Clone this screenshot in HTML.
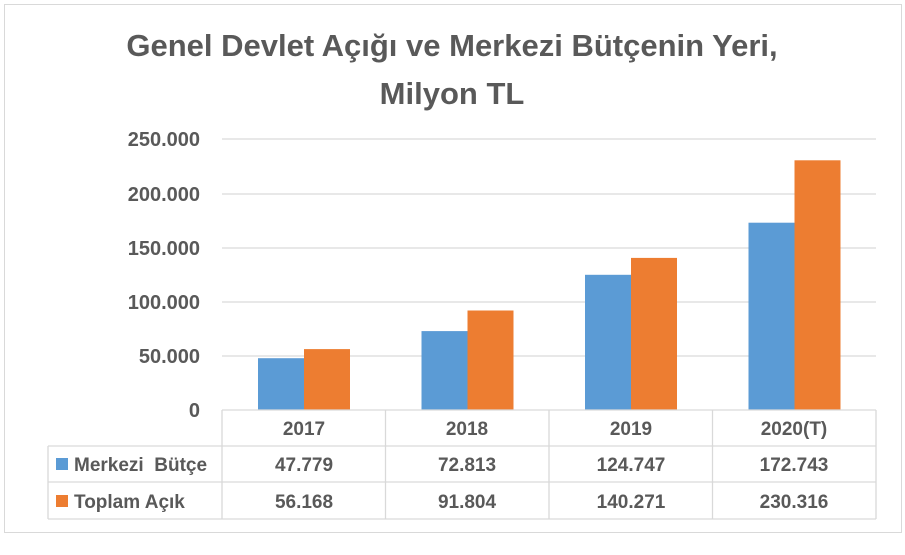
<!DOCTYPE html>
<html><head><meta charset="utf-8"><style>body{margin:0;background:#fff}</style></head><body>
<svg width="905" height="550" xmlns="http://www.w3.org/2000/svg" font-family="Liberation Sans, sans-serif" font-weight="bold" fill="#595959">
<rect x="4.5" y="4.5" width="897" height="528" fill="#fff" stroke="#d9d9d9"/>
<text x="452" y="56" font-size="31" text-anchor="middle">Genel Devlet Açığı ve Merkezi Bütçenin Yeri,</text>
<text x="452" y="104" font-size="31" text-anchor="middle">Milyon TL</text>
<g stroke="#d9d9d9" stroke-width="1.3">
<line x1="222" y1="139" x2="876" y2="139"/><line x1="222" y1="194" x2="876" y2="194"/><line x1="222" y1="248" x2="876" y2="248"/><line x1="222" y1="302" x2="876" y2="302"/><line x1="222" y1="356" x2="876" y2="356"/>
</g>
<g font-size="20" text-anchor="end">
<text x="200" y="146">250.000</text><text x="200" y="201">200.000</text><text x="200" y="255">150.000</text><text x="200" y="309">100.000</text><text x="200" y="363">50.000</text><text x="200" y="417">0</text>
</g>
<g fill="#5b9bd5">
<rect x="258" y="358.2" width="46" height="51.8"/><rect x="421.5" y="331.1" width="46" height="78.9"/><rect x="585" y="274.8" width="46" height="135.2"/><rect x="748.5" y="222.7" width="46" height="187.3"/>
</g>
<g fill="#ed7d31">
<rect x="304" y="349.1" width="46" height="60.9"/><rect x="467.5" y="310.5" width="46" height="99.5"/><rect x="631" y="257.9" width="46" height="152.1"/><rect x="794.5" y="160.3" width="46" height="249.7"/>
</g>
<g stroke="#d9d9d9" stroke-width="1.3" fill="none">
<line x1="222" y1="410" x2="876" y2="410"/>
<line x1="48" y1="446" x2="876" y2="446"/><line x1="48" y1="482" x2="876" y2="482"/><line x1="48" y1="519" x2="876" y2="519"/>
<line x1="48" y1="446" x2="48" y2="519"/><line x1="222" y1="410" x2="222" y2="519"/><line x1="385.5" y1="410" x2="385.5" y2="519"/><line x1="549" y1="410" x2="549" y2="519"/><line x1="712.5" y1="410" x2="712.5" y2="519"/><line x1="876" y1="410" x2="876" y2="519"/>
</g>
<g font-size="19" text-anchor="middle">
<text x="304" y="435">2017</text><text x="467" y="435">2018</text><text x="631" y="435">2019</text><text x="794" y="435">2020(T)</text>
<text x="304" y="471">47.779</text><text x="467" y="471">72.813</text><text x="631" y="471">124.747</text><text x="794" y="471">172.743</text>
<text x="304" y="508">56.168</text><text x="467" y="508">91.804</text><text x="631" y="508">140.271</text><text x="794" y="508">230.316</text>
</g>
<rect x="56" y="458" width="12" height="12" fill="#5b9bd5"/>
<rect x="56" y="495" width="12" height="12" fill="#ed7d31"/>
<text x="74" y="471" font-size="19" xml:space="preserve">Merkezi  Bütçe</text>
<text x="74" y="508" font-size="19">Toplam Açık</text>
</svg>
</body></html>
